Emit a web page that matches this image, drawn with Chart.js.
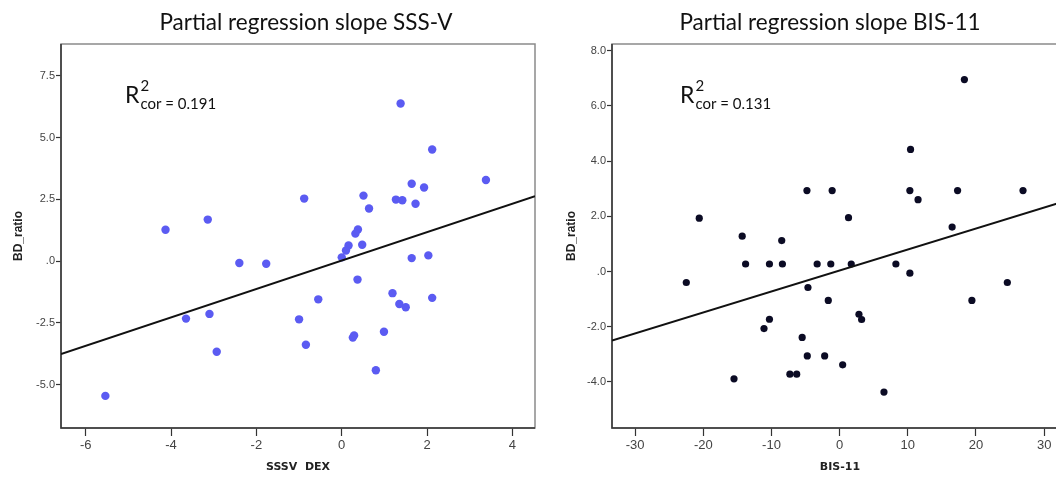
<!DOCTYPE html>
<html>
<head>
<meta charset="utf-8">
<script src="https://cdn.jsdelivr.net/npm/chart.js@4"></script>
<style>
  html, body { margin: 0; padding: 0; background: #fff; width: 1056px; height: 477px; overflow: hidden; }
  .panel { position: absolute; top: 0; height: 477px; }
  #left { left: 0; width: 548px; }
  #right { left: 560px; width: 520px; }
</style>
</head>
<body>
<div class="panel" id="left"><canvas id="sssv"></canvas></div>
<div class="panel" id="right"><canvas id="bis"></canvas></div>
<script>
// SSS-V partial regression (residuals)
const sssvX = [-4.13, -3.14, -2.40, -1.77, -3.65, -3.10, -2.93, -5.54, 1.38, 2.12, 3.38, 1.64, 1.93,
  -0.88, 0.51, 1.27, 1.42, 1.73, 0.64, 0.38, 0.32, 0.48, 0.16, 0.10, 0.00, 1.64, 2.03, 0.37,
  -0.55, 1.19, 1.35, 1.50, 2.12, -1.00, 0.99, 0.29, 0.26, -0.84, 0.80];
const sssvY = [1.27, 1.68, -0.08, -0.11, -2.33, -2.14, -3.67, -5.46, 6.38, 4.52, 3.28, 3.13, 2.98,
  2.53, 2.65, 2.49, 2.46, 2.32, 2.13, 1.28, 1.11, 0.66, 0.63, 0.43, 0.15, 0.12, 0.23, -0.75,
  -1.55, -1.30, -1.74, -1.87, -1.49, -2.36, -2.86, -3.01, -3.10, -3.39, -4.42];
const sssvFit = [0.02, 0.575]; // intercept, slope
const sssvXTicks = [-6, -4, -2, 0, 2, 4];
const sssvYTicks = [-5, -2.5, 0, 2.5, 5, 7.5];
const sssvXRange = [-6.58, 4.53];
const sssvYRange = [-6.76, 8.79];

// BIS-11 partial regression (residuals)
const bisX = [-20.6, -14.3, -8.5, -4.8, 18.3, 10.4, -1.1, 10.3, 17.3, 26.9, 11.5, 1.3, 16.5,
  -22.5, -13.8, -10.3, -8.4, -4.65, -11.1, -10.3, -5.5, -4.75, -15.5, -7.3, -6.3, -3.3, -1.3,
  1.7, 8.25, 10.3, 24.6, 19.4, -1.67, 2.83, 3.22, -2.2, 0.44, 6.5];
const bisY = [1.93, 1.28, 1.12, 2.93, 6.95, 4.42, 2.93, 2.93, 2.93, 2.93, 2.60, 1.95, 1.61,
  -0.40, 0.27, 0.27, 0.27, -0.58, -2.07, -1.73, -2.39, -3.06, -3.89, -3.72, -3.72, 0.27, 0.27,
  0.27, 0.27, -0.06, -0.40, -1.05, -1.05, -1.55, -1.74, -3.06, -3.38, -4.37];
const bisFit = [0.04, 0.076];
const bisXTicks = [-30, -20, -10, 0, 10, 20, 30];
const bisYTicks = [-4, -2, 0, 2, 4, 6, 8];
const bisXRange = [-33.4, 33.5];
const bisYRange = [-5.67, 8.24];

const frame = {
  id: "frame",
  beforeDatasetsDraw(chart) {
    const { ctx, chartArea: a } = chart;
    ctx.save();
    ctx.strokeStyle = "#8a8a8a";
    ctx.lineWidth = 1.5;
    ctx.strokeRect(a.left, a.top, a.right - a.left, a.bottom - a.top);
    ctx.strokeStyle = "#333";
    ctx.beginPath();
    ctx.moveTo(a.left, a.top);
    ctx.lineTo(a.left, a.bottom);
    ctx.lineTo(a.right, a.bottom);
    ctx.stroke();
    ctx.restore();
  },
};

const captions = {
  id: "captions",
  afterDraw(chart, args, opts) {
    const { ctx, chartArea: a } = chart;
    ctx.save();
    ctx.fillStyle = "#111";
    ctx.textBaseline = "alphabetic";
    ctx.textAlign = "center";
    ctx.font = "22.5px Lato";
    ctx.fillText(opts.title, opts.titleX, 30);
    // R² annotation
    ctx.textAlign = "left";
    let x = a.left + opts.rOffset;
    ctx.font = "23px Lato";
    ctx.fillText("R", x, 103);
    x += ctx.measureText("R").width + 1;
    ctx.font = "15px Lato";
    ctx.fillText("2", x, 91);
    ctx.fillText("cor = " + opts.r2, x, 109);
    ctx.restore();
  },
};

function yLabel(v) {
  return v === 0 ? ".0" : v.toFixed(1);
}

function makeChart(id, cfg) {
  const points = cfg.xs.map((x, i) => ({ x, y: cfg.ys[i] }));
  const line = cfg.xRange.map((x) => ({ x, y: cfg.fit[0] + cfg.fit[1] * x }));
  return new Chart(document.getElementById(id), {
    type: "scatter",
    data: {
      datasets: [
        {
          data: line,
          type: "line",
          borderColor: "#111",
          borderWidth: 2,
          pointRadius: 0,
          fill: false,
        },
        {
          data: points,
          backgroundColor: cfg.color,
          borderColor: cfg.color,
          pointRadius: cfg.radius,
          borderWidth: 0,
        },
      ],
    },
    options: {
      responsive: true,
      maintainAspectRatio: false,
      animation: false,
      events: [],
      layout: { padding: { top: 44, right: cfg.padRight, left: 0, bottom: 0 } },
      plugins: {
        legend: { display: false },
        tooltip: { enabled: false },
        captions: cfg.captions,
      },
      scales: {
        x: {
          type: "linear",
          min: cfg.xRange[0],
          max: cfg.xRange[1],
          afterBuildTicks: (s) => { s.ticks = cfg.xTicks.map((value) => ({ value })); },
          afterFit: (s) => { s.height = 49; },
          grid: { drawOnChartArea: false, tickLength: 8, color: "#333", tickWidth: 1.2 },
          border: { display: false },
          ticks: {
            color: "#444",
            font: { family: "Liberation Sans", size: 13 },
            padding: 2,
            maxRotation: 0,
            callback: (v) => String(v),
          },
          title: {
            display: true,
            text: cfg.xTitle,
            color: "#222",
            font: { family: "DejaVu Sans", weight: "bold", size: 11 },
            padding: { top: 0, bottom: 3 },
          },
        },
        y: {
          type: "linear",
          min: cfg.yRange[0],
          max: cfg.yRange[1],
          afterBuildTicks: (s) => { s.ticks = cfg.yTicks.map((value) => ({ value })); },
          afterFit: (s) => { s.width = cfg.yWidth; },
          grid: { drawOnChartArea: false, tickLength: 5, color: "#333", tickWidth: 1.2 },
          border: { display: false },
          ticks: {
            color: "#444",
            font: { family: "Liberation Sans", size: 11 },
            padding: 1,
            callback: yLabel,
          },
          title: {
            display: true,
            text: "BD_ratio",
            color: "#222",
            font: { family: "Liberation Sans", weight: "bold", size: 12 },
            padding: { top: cfg.yTitlePad, bottom: 0 },
          },
        },
      },
    },
    plugins: [frame, captions],
  });
}

makeChart("sssv", {
  xs: sssvX, ys: sssvY, fit: sssvFit,
  xTicks: sssvXTicks, yTicks: sssvYTicks,
  xRange: sssvXRange, yRange: sssvYRange,
  color: "#5b5bf2", radius: 4.2,
  xTitle: "SSSV  DEX", yWidth: 61, yTitlePad: 11, padRight: 13,
  captions: { title: "Partial regression slope SSS-V", titleX: 306, r2: "0.191", rOffset: 64 },
});

makeChart("bis", {
  xs: bisX, ys: bisY, fit: bisFit,
  xTicks: bisXTicks, yTicks: bisYTicks,
  xRange: bisXRange, yRange: bisYRange,
  color: "#0b0b24", radius: 3.6,
  xTitle: "BIS-11", yWidth: 52, yTitlePad: 4, padRight: 12,
  captions: { title: "Partial regression slope BIS-11", titleX: 270, r2: "0.131", rOffset: 68 },
});
</script>
</body>
</html>
